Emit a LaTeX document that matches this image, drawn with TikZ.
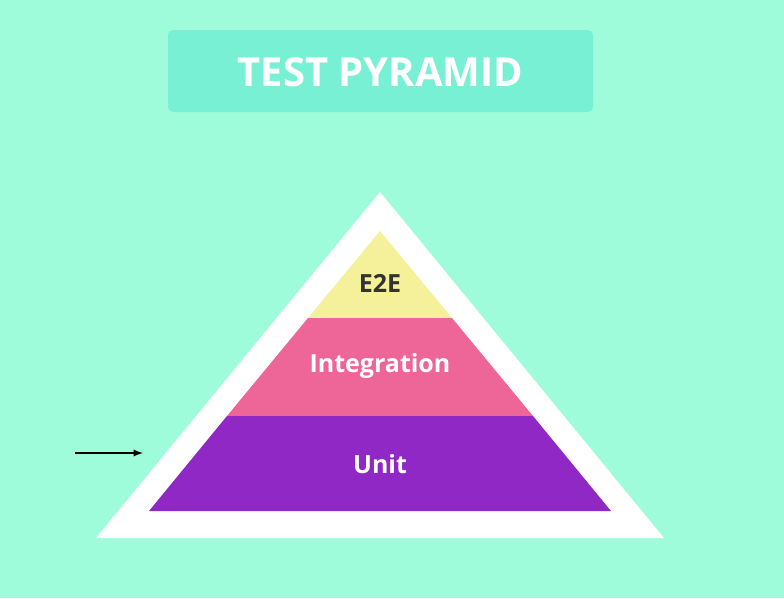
\documentclass[tikz,border=0pt]{standalone}
\usepackage{fontspec}
\setmainfont{Open Sans}
\definecolor{bg}{HTML}{9EFCDB}
\definecolor{titlebox}{HTML}{78F0D4}
\definecolor{yel}{HTML}{F5F19A}
\definecolor{pnk}{HTML}{EE6598}
\definecolor{pur}{HTML}{9028C6}
\definecolor{dark}{HTML}{333333}
\tikzset{lbl/.style={font=\bfseries\fontsize{25}{28}\selectfont, inner sep=0pt}}
\begin{document}
\begin{tikzpicture}[x=1pt,y=-1pt]
\fill[bg] (0,0) rectangle (784,598);
\useasboundingbox (0,0) rectangle (784,598);
\fill[titlebox, rounded corners=5pt] (168,30) rectangle (593,112);
\node[font=\bfseries\fontsize{40}{44}\selectfont, text=white, inner sep=0pt] (title) at (380.5,72) {TEST PYRAMID};
\fill[white] (380,192) -- (664,538) -- (96,538) -- cycle;
\fill[yel] (380,231) -- (452,318) -- (308,318) -- cycle;
\fill[pnk] (308,318) -- (452,318) -- (533,416) -- (227,416) -- cycle;
\fill[pur] (227,416) -- (533,416) -- (611,511) -- (149,511) -- cycle;
\node[lbl, text=dark] (e2e) at (380,283) {E2E};
\node[lbl, text=white] (integ) at (380,366) {Integration};
\node[lbl, text=white] (unit) at (380,464) {Unit};
\coordinate (a1) at (75,453);
\coordinate (a2) at (143,453);
\draw[line width=2.2pt, -latex] (a1) -- (a2);
\end{tikzpicture}
\end{document}
